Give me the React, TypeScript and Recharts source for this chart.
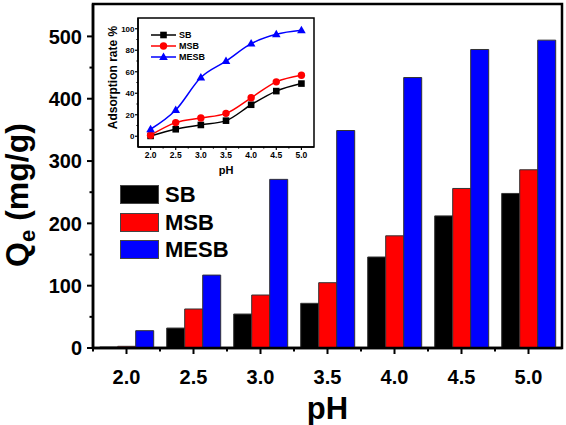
import React from "react"
import { BarChart, Bar, XAxis, YAxis, Legend, ReferenceArea, Label, LineChart, Line } from "recharts"

const phLabels = ["2.0", "2.5", "3.0", "3.5", "4.0", "4.5", "5.0"]
const phValues = [2, 2.5, 3, 3.5, 4, 4.5, 5]
const seriesNames = ["SB", "MSB", "MESB"]

// main bars: Qe (mg/g)
const qeSB = [1.6, 32, 54.5, 71.7, 146, 212, 248]
const qeMSB = [2.7, 62.6, 85, 104.8, 180, 256, 286]
const qeMESB = [27.8, 117, 270.6, 349, 434, 479, 494]

// inset lines: adsorption rate %
const rateSB = [0.3, 6.5, 10.5, 14.5, 29.3, 42, 49]
const rateMSB = [1, 12.7, 17, 21.3, 35.8, 50.6, 56.8]
const rateMESB = [6.5, 24.4, 54.6, 69.8, 86.1, 94.8, 98.5]

const qeTicks = [0, 50, 100, 150, 200, 250, 300, 350, 400, 450, 500]
const rateTicks = [0, 10, 20, 30, 40, 50, 60, 70, 80, 90, 100]
const insetPhTicks = [2, 2.25, 2.5, 2.75, 3, 3.25, 3.5, 3.75, 4, 4.25, 4.5, 4.75, 5]

const FONT = "'Liberation Sans', Arial, sans-serif"

const barData = phLabels.map((ph, i) => ({ ph, SB: qeSB[i], MSB: qeMSB[i], MESB: qeMESB[i] }))
const lineData = phValues.map((ph, i) => ({ ph, SB: rateSB[i], MSB: rateMSB[i], MESB: rateMESB[i] }))

const markerOf: Record<string, string> = { SB: "square", MSB: "circle", MESB: "triangle" }

const inOrder = (payload: any[]) =>
  [...(payload || [])].sort((a, b) => seriesNames.indexOf(a.value) - seriesNames.indexOf(b.value))

function Marker({ cx, cy, kind, color }: any) {
  if (kind === "square") return <rect x={cx - 3.3} y={cy - 3.3} width={6.6} height={6.6} fill={color} />
  if (kind === "circle") return <circle cx={cx} cy={cy} r={3.7} fill={color} />
  return <path d={`M${cx},${cy - 4.6}L${cx + 4.3},${cy + 2.9}L${cx - 4.3},${cy + 2.9}Z`} fill={color} />
}

function MainYTick({ x, y, payload }: any) {
  const major = payload.value % 100 === 0
  return (
    <g>
      <line x1={x - (major ? 6 : 3.5)} x2={x} y1={y} y2={y} stroke="#000" strokeWidth={2} />
      {major && (
        <text x={x - 11} y={y} dy="0.36em" textAnchor="end" fontFamily={FONT} fontWeight="bold" fontSize={20} fill="#000">
          {payload.value}
        </text>
      )}
    </g>
  )
}

function MainXTick({ x, y, payload }: any) {
  const half = payload.offset ?? 33.5
  return (
    <g>
      <line x1={x} x2={x} y1={y} y2={y + 6} stroke="#000" strokeWidth={2} />
      <line x1={x - half} x2={x - half} y1={y} y2={y + 3.5} stroke="#000" strokeWidth={2} />
      <text x={x} y={y + 36} textAnchor="middle" fontFamily={FONT} fontWeight="bold" fontSize={20} fill="#000">
        {payload.value}
      </text>
    </g>
  )
}

function InsetYTick({ x, y, payload }: any) {
  const major = payload.value % 20 === 0
  return (
    <g>
      <line x1={x - (major ? 3 : 1.6)} x2={x} y1={y} y2={y} stroke="#000" strokeWidth={1.2} />
      {major && (
        <text x={x - 3.5} y={y} dy="0.36em" textAnchor="end" fontFamily={FONT} fontWeight="bold" fontSize={8} fill="#000">
          {payload.value}
        </text>
      )}
    </g>
  )
}

function InsetXTick({ x, y, payload }: any) {
  const major = Number.isInteger(payload.value * 2)
  return (
    <g>
      <line x1={x} x2={x} y1={y} y2={y + (major ? 3 : 1.6)} stroke="#000" strokeWidth={1.2} />
      {major && (
        <text x={x} y={y + 11} textAnchor="middle" fontFamily={FONT} fontWeight="bold" fontSize={8.5} fill="#000">
          {payload.value.toFixed(1)}
        </text>
      )}
    </g>
  )
}

function MainLegend({ payload }: any) {
  return (
    <div style={{ fontFamily: FONT, fontWeight: "bold", fontSize: 22 }}>
      {inOrder(payload).map((p: any) => (
        <div key={p.value} style={{ display: "flex", alignItems: "center", height: 19, marginBottom: 8.5 }}>
          <div style={{ width: 37, height: 17, background: p.color, border: "1px solid #444", marginRight: 6 }} />
          <span style={{ lineHeight: "19px" }}>{p.value}</span>
        </div>
      ))}
    </div>
  )
}

function InsetLegend({ payload }: any) {
  return (
    <div style={{ fontFamily: FONT, fontWeight: "bold", fontSize: 9 }}>
      {inOrder(payload).map((p: any) => (
        <div key={p.value} style={{ display: "flex", alignItems: "center", height: 10.7 }}>
          <svg width={27} height={10} style={{ marginRight: 2 }}>
            <line x1={1} x2={26} y1={5} y2={5} stroke={p.color} strokeWidth={1.5} />
            <Marker cx={13.5} cy={5} kind={markerOf[p.value]} color={p.color} />
          </svg>
          <span>{p.value}</span>
        </div>
      ))}
    </div>
  )
}

function QeLabel({ viewBox }: any) {
  const x = viewBox.x + 28
  const y = viewBox.y + viewBox.height / 2 + 19
  return (
    <text x={x} y={y} transform={`rotate(-90, ${x}, ${y})`} textAnchor="middle" fontFamily={FONT} fontWeight="bold" fontSize={32} fill="#000">
      <tspan>Q</tspan>
      <tspan fontSize={22} dy={7}>e</tspan>
      <tspan dy={-7}> (mg/g)</tspan>
    </text>
  )
}

function RateLabel({ viewBox }: any) {
  const x = viewBox.x + 17
  const y = viewBox.y + viewBox.height / 2 - 5
  return (
    <text x={x} y={y} transform={`rotate(-90, ${x}, ${y})`} textAnchor="middle" fontFamily={FONT} fontWeight="bold" fontSize={12} fill="#000">
      Adsorption rate %
    </text>
  )
}

export default function App() {
  return (
    <div style={{ position: "absolute", left: 0, top: 0, width: 566, height: 425, background: "#fff" }}>
      <BarChart width={566} height={425} data={barData} margin={{ top: 4, right: 4, left: 0, bottom: 0 }} barCategoryGap="10%" barGap={0}>
        <ReferenceArea x1="2.0" x2="5.0" y1={0} y2={552} fill="none" stroke="#000" strokeWidth={2.5} />
        <XAxis dataKey="ph" height={77} tickLine={false} tickSize={0} tickMargin={0} tick={<MainXTick />} axisLine={{ stroke: "#000", strokeWidth: 2.5 }} interval={0}>
          <Label value="pH" position="insideBottom" offset={6} style={{ fontFamily: FONT, fontWeight: "bold", fontSize: 31, fill: "#000" }} />
        </XAxis>
        <YAxis width={93} domain={[0, 552]} ticks={qeTicks} interval={0} tickLine={false} tickSize={0} tickMargin={0} tick={<MainYTick />} axisLine={{ stroke: "#000", strokeWidth: 2.5 }}>
          <Label content={<QeLabel />} />
        </YAxis>
        <Legend layout="vertical" align="center" verticalAlign="middle" content={<MainLegend />} wrapperStyle={{ left: 120, top: 185, width: "auto" }} />
        <Bar dataKey="SB" name="SB" fill="#000000" stroke="#333" strokeWidth={1} isAnimationActive={false} />
        <Bar dataKey="MSB" name="MSB" fill="#ff0000" stroke="#333" strokeWidth={1} isAnimationActive={false} />
        <Bar dataKey="MESB" name="MESB" fill="#0000ff" stroke="#333" strokeWidth={1} isAnimationActive={false} />
      </BarChart>

      <div style={{ position: "absolute", left: 100, top: 10, width: 220, height: 170 }}>
        <LineChart width={220} height={170} data={lineData} margin={{ top: 8, right: 6, left: 0, bottom: 0 }}>
          <ReferenceArea x1={1.75} x2={5.25} y1={-10} y2={110} fill="none" stroke="#000" strokeWidth={1.5} />
          <XAxis dataKey="ph" type="number" domain={[1.75, 5.25]} allowDataOverflow ticks={insetPhTicks} interval={0} height={33} tickLine={false} tickSize={0} tickMargin={0} tick={<InsetXTick />} axisLine={{ stroke: "#000", strokeWidth: 1.5 }}>
            <Label value="pH" position="insideBottom" offset={6} style={{ fontFamily: FONT, fontWeight: "bold", fontSize: 11, fill: "#000" }} />
          </XAxis>
          <YAxis width={38} domain={[-10, 110]} allowDataOverflow ticks={rateTicks} interval={0} tickLine={false} tickSize={0} tickMargin={0} tick={<InsetYTick />} axisLine={{ stroke: "#000", strokeWidth: 1.5 }}>
            <Label content={<RateLabel />} />
          </YAxis>
          <Legend layout="vertical" align="center" verticalAlign="middle" content={<InsetLegend />} wrapperStyle={{ left: 50, top: 20, width: "auto" }} />
          <Line type="monotone" dataKey="SB" name="SB" stroke="#000000" strokeWidth={1.5} isAnimationActive={false}
            dot={(p: any) => <Marker key={`sb${p.index}`} cx={p.cx} cy={p.cy} kind="square" color="#000000" />} />
          <Line type="monotone" dataKey="MSB" name="MSB" stroke="#ff0000" strokeWidth={1.5} isAnimationActive={false}
            dot={(p: any) => <Marker key={`msb${p.index}`} cx={p.cx} cy={p.cy} kind="circle" color="#ff0000" />} />
          <Line type="monotone" dataKey="MESB" name="MESB" stroke="#0000ff" strokeWidth={1.5} isAnimationActive={false}
            dot={(p: any) => <Marker key={`mesb${p.index}`} cx={p.cx} cy={p.cy} kind="triangle" color="#0000ff" />} />
        </LineChart>
      </div>
    </div>
  )
}
